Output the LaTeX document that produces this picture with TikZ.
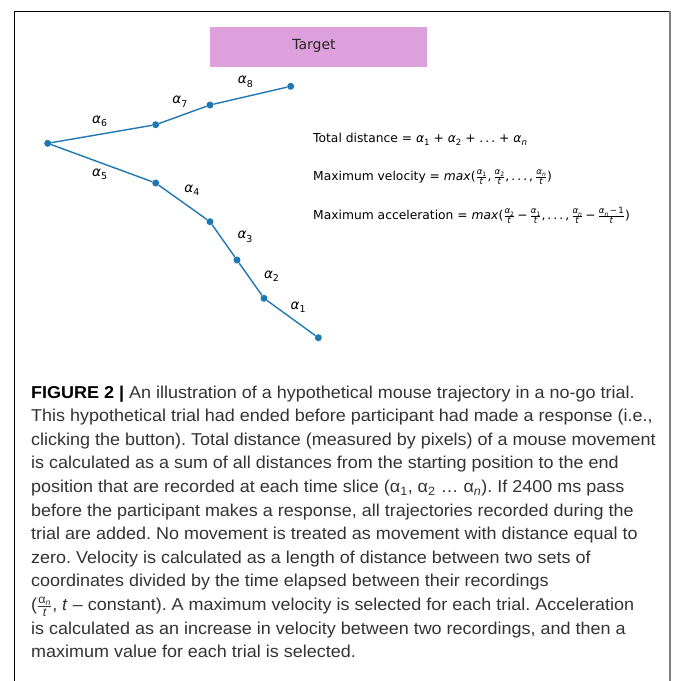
\documentclass[tikz,border=0pt]{standalone}
\usepackage{amsmath}
\usepackage{fontspec}
\usepackage{xcolor}
\usepackage{tikz}
\usetikzlibrary{positioning}
\setmainfont{Liberation Sans}
\newfontfamily\plotfont{DejaVu Sans}
\newfontfamily\capfont{Liberation Sans}[FakeStretch=1.045]
\frenchspacing

\definecolor{traj}{HTML}{1F77B4}
\definecolor{targetpink}{HTML}{DDA0DD}
\definecolor{captext}{HTML}{333333}

% alpha with subscript, and a small stacked fraction
\newcommand{\al}[1]{\textit{α}\raisebox{-0.25em}{\scalebox{0.7}{#1}}}
\newcommand{\fr}[2]{$\genfrac{}{}{0.4pt}{1}{\text{#1}}{\text{#2}}$}

\begin{document}
\begin{tikzpicture}[x=1pt, y=-1pt]
    \tikzstyle{dot} = [circle, fill=traj, inner sep=0pt, minimum size=7pt]
    \tikzstyle{seg} = [draw=traj, line width=1.4pt]
    \tikzstyle{lbl} = [font=\plotfont\fontsize{13.5}{14}\selectfont, inner sep=1pt]
    \tikzstyle{formula} = [font=\plotfont\fontsize{12.3}{13}\selectfont, anchor=west, inner sep=0pt]

    \useasboundingbox (0,0) rectangle (673,681);

    % frame
    \draw[line width=1pt] (14,681) -- (14,11) -- (670,11);
    \draw[gray, line width=1.6pt] (670,11) -- (670,681);

    % target
    \fill[targetpink] (210,27) rectangle (427,67);
    \node[font=\plotfont\fontsize{14}{15}\selectfont, text=black!85] (target) at (314,46) {Target};

    % trajectory points
    \node[dot] (m0) at (318.3,337.7) {};
    \node[dot] (m1) at (264,298.3) {};
    \node[dot] (m2) at (237,260) {};
    \node[dot] (m3) at (210,221.7) {};
    \node[dot] (m4) at (155.7,183) {};
    \node[dot] (m5) at (47.7,143.3) {};
    \node[dot] (m6) at (155.7,124.7) {};
    \node[dot] (m7) at (210,105) {};
    \node[dot] (m8) at (290.7,86.3) {};

    \draw[seg] (m0) -- node[lbl, xshift=7pt, yshift=11pt] {\al{1}} (m1);
    \draw[seg] (m1) -- node[lbl, xshift=21pt, yshift=3pt] {\al{2}} (m2);
    \draw[seg] (m2) -- node[lbl, xshift=21.5pt, yshift=4pt] {\al{3}} (m3);
    \draw[seg] (m3) -- node[lbl, xshift=9pt, yshift=12pt] {\al{4}} (m4);
    \draw[seg] (m4) -- node[lbl, xshift=-2pt, yshift=-11pt] {\al{5}} (m5);
    \draw[seg] (m5) -- node[lbl, xshift=-2pt, yshift=13pt] {\al{6}} (m6);
    \draw[seg] (m6) -- node[lbl, xshift=-3pt, yshift=13pt] {\al{7}} (m7);
    \draw[seg] (m7) -- node[lbl, xshift=-5pt, yshift=14pt] {\al{8}} (m8);

    % formulas
    \node[formula] (dist) at (313,139)
        {Total distance = \al{1} + \al{2} + .\,.\,. + \al{\textit{n}}};
    \node[formula] (vel) at (313,177)
        {Maximum velocity = \textit{max}(\fr{\al{1}}{\textit{t}},\,\fr{\al{2}}{\textit{t}},\,.\,.\,.\,,\,\fr{\al{\textit{n}}}{\textit{t}})};
    \node[formula] (acc) at (313,215.7)
        {Maximum acceleration = \textit{max}(\fr{\al{2}}{\textit{t}}\,−\,\fr{\al{1}}{\textit{t}},\,.\,.\,.\,,\,\fr{\al{\textit{n}}}{\textit{t}}\,−\,\fr{\al{\textit{n}}\,−\,1}{\textit{t}})};

    % caption
    \node[anchor=north west, inner sep=0pt, align=left, text=captext,
          font=\capfont\fontsize{17.2}{23.6}\selectfont] (caption) at (31,385.5) {%
        \textbf{\color{black}FIGURE 2 |} An illustration of a hypothetical mouse trajectory in a no-go trial.\\
        This hypothetical trial had ended before participant had made a response (i.e.,\\
        clicking the button). Total distance (measured by pixels) of a mouse movement\\
        is calculated as a sum of all distances from the starting position to the end\\
        position that are recorded at each time slice (α\textsubscript{1}, α\textsubscript{2} … α\textsubscript{\textit{n}}). If 2400 ms pass\\
        before the participant makes a response, all trajectories recorded during the\\
        trial are added. No movement is treated as movement with distance equal to\\
        zero. Velocity is calculated as a length of distance between two sets of\\
        coordinates divided by the time elapsed between their recordings\\
        (\fr{α\textsubscript{\textit{n}}}{\textit{t}}, \textit{t} – constant). A maximum velocity is selected for each trial. Acceleration\\
        is calculated as an increase in velocity between two recordings, and then a\\
        maximum value for each trial is selected.};
\end{tikzpicture}
\end{document}
